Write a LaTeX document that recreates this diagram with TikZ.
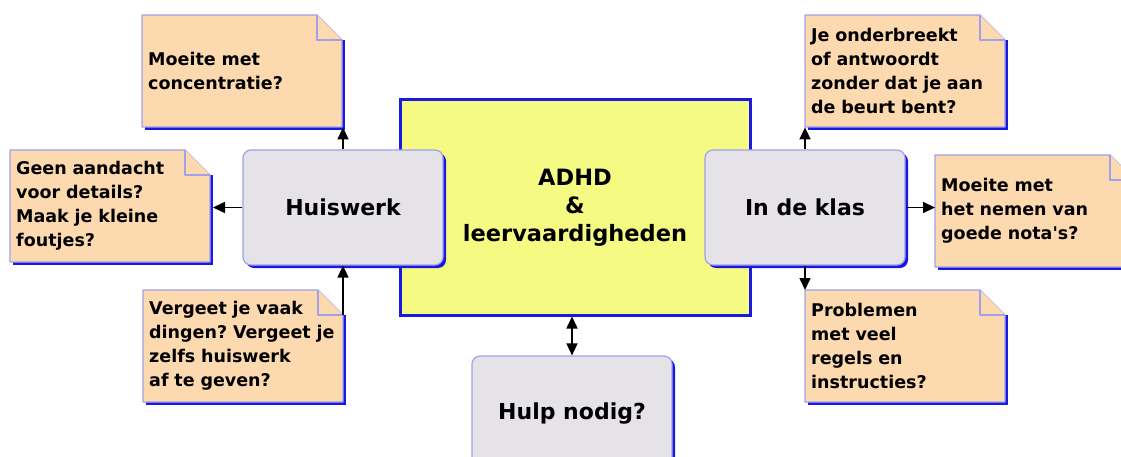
\documentclass[tikz,border=0pt]{standalone}
\usepackage{fontspec}
\setmainfont{DejaVu Sans}
\usetikzlibrary{arrows.meta,shadows}
\frenchspacing

\definecolor{peach}{RGB}{253,217,175}
\definecolor{lavender}{RGB}{160,160,235}
\definecolor{shadowblue}{RGB}{25,25,225}
\definecolor{boxgray}{RGB}{230,227,232}
\definecolor{paleyellow}{RGB}{245,250,130}

\tikzset{
  notebox/.style={fill=peach, draw=lavender, line width=1.2pt, line join=round},
  notetext/.style={inner xsep=6pt, inner ysep=0pt, text width=196pt, minimum height=112pt,
    align=left, font=\fontsize{17.5}{24}\selectfont\bfseries},
  topicbox/.style={fill=boxgray, draw=lavender, line width=1.2pt, rounded corners=8pt,
    minimum width=200pt, minimum height=115pt, font=\fontsize{22}{27}\selectfont\bfseries,
    drop shadow={shadow xshift=3pt, shadow yshift=-3pt, opacity=1, fill=shadowblue}},
  mainbox/.style={fill=paleyellow, draw=shadowblue, line width=3pt, minimum width=350pt,
    minimum height=215pt, align=center, font=\fontsize{22.5}{28}\selectfont\bfseries},
  link/.style={line width=1.6pt, -{Triangle[length=12pt,width=11pt]}},
  bilink/.style={line width=1.6pt, {Triangle[length=12pt,width=11pt]}-{Triangle[length=12pt,width=11pt]}}
}

% sticky note: name, top left corner, text
\newcommand{\stickynote}[3]{%
  \begin{scope}[shift={(#2)}]
    \fill[shadowblue] (3,25) rectangle (203,115);
    \filldraw[notebox] (0,0) -- (175,0) -- (200,25) -- (200,112) -- (0,112) -- cycle;
    \draw[notebox] (175,0) -- (175,25) -- (200,25);
    \coordinate (#1-fold) at (200,25);
    \coordinate (#1-edge) at (203,56);
    \node[notetext, anchor=north west] (#1) at (0,0) {#3};
  \end{scope}}

\begin{document}
\begin{tikzpicture}[x=1pt, y=-1pt]
  \useasboundingbox (0,0) rectangle (1121,457);
  \clip (0,0) rectangle (1121,457);

  \node[mainbox] (adhd) at (575,207.5) {ADHD\\\&\\leervaardigheden\rule[-4pt]{0pt}{0pt}};
  \node[topicbox] (huiswerk) at (343,207.5) {Huiswerk};
  \node[topicbox] (klas) at (805,207.5) {In de klas};
  \node[topicbox] (hulp) at (572,413.5) {Hulp nodig?};

  \stickynote{concentratie}{142,15}{Moeite met\\concentratie?}
  \stickynote{details}{10,150}{Geen aandacht\\voor details?\\Maak je kleine\\foutjes?}
  \stickynote{vergeten}{143,290}{Vergeet je vaak\\dingen? Vergeet je\\zelfs huiswerk\\af te geven?}
  \stickynote{onderbreken}{805,15}{Je onderbreekt\\of antwoordt\\zonder dat je aan\\de beurt bent?}
  \stickynote{notas}{935,155}{Moeite met\\het nemen van\\goede nota\textquotesingle s?}
  \stickynote{regels}{805,290}{Problemen\\met veel\\regels en\\instructies?}

  \draw[link] (huiswerk.north) -- (huiswerk.north |- concentratie.south);
  \draw[link] (huiswerk.west) -- (huiswerk.west -| details-edge);
  \draw[link] (vergeten-fold) -- (huiswerk.south);
  \draw[link] (klas.north) -- (klas.north |- onderbreken.south);
  \draw[link] (klas.east) -- (klas.east -| notas.west);
  \draw[link] (klas.south) -- (klas.south |- regels.north);
  \draw[bilink] (hulp.north |- adhd.south) -- (hulp.north);
\end{tikzpicture}
\end{document}
